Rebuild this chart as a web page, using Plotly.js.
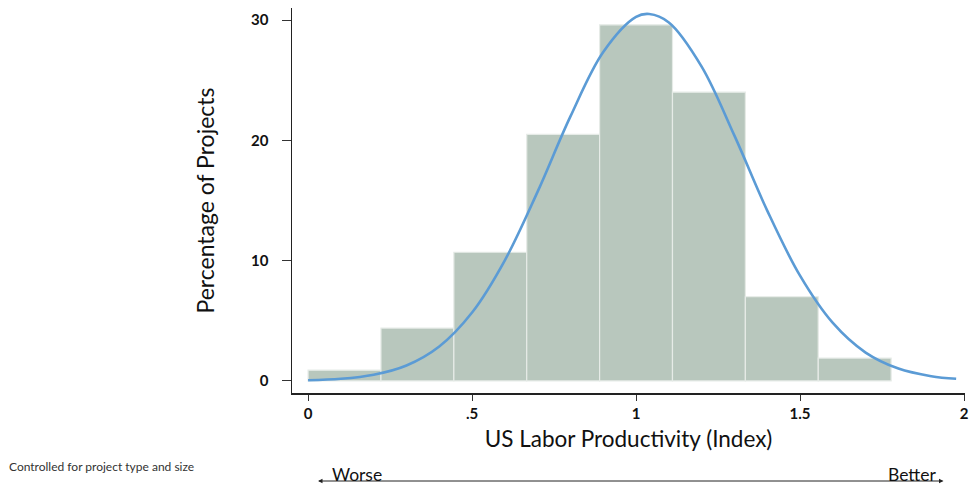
<!DOCTYPE html>
<html>
<head>
<meta charset="utf-8">
<script src="https://cdn.plot.ly/plotly-3.0.1.min.js"></script>
<style>html,body{margin:0;padding:0;background:#fff;}#chart{width:971px;height:485px;}</style>
</head>
<body>
<div id="chart"></div>
<script>
// Histogram bins (width 2/9) and percentages
const binCenters = [0.1111, 0.3333, 0.5556, 0.7778, 1.0, 1.2222, 1.4444, 1.6667];
const binPercent = [0.9, 4.4, 10.7, 20.5, 29.6, 24.0, 7.0, 1.9];
const binWidth = 0.2222;

// Fitted normal curve
const curveX = [0, 0.1, 0.2, 0.3, 0.4, 0.5, 0.6, 0.7, 0.8, 0.9, 1.0, 1.04, 1.1, 1.2, 1.3, 1.4, 1.5, 1.6, 1.7, 1.8, 1.9, 1.976];
const curveY = [0.06, 0.18, 0.52, 1.29, 2.87, 5.69, 10.03, 15.74, 21.99, 27.34, 30.26, 30.5, 29.80, 26.13, 20.39, 14.16, 8.75, 4.82, 2.36, 1.03, 0.40, 0.18];

const xTickVals = [0, 0.5, 1, 1.5, 2];
const xTickText = ['0', '.5', '1', '1.5', '2'];
const yTickVals = [0, 10, 20, 30];

const font = 'Lato, "Open Sans", "Liberation Sans", sans-serif';

const traces = [
  {
    type: 'bar',
    x: binCenters,
    y: binPercent,
    width: binWidth,
    marker: {color: '#b8c7bd', line: {color: '#e6ebe7', width: 1.2}},
    hoverinfo: 'skip'
  },
  {
    type: 'scatter',
    mode: 'lines',
    x: curveX,
    y: curveY,
    line: {color: '#5b9bd5', width: 2.6, shape: 'spline', smoothing: 1},
    hoverinfo: 'skip'
  }
];

const layout = {
  width: 971,
  height: 485,
  margin: {l: 292, r: 6, t: 8, b: 92},
  paper_bgcolor: '#ffffff',
  plot_bgcolor: '#ffffff',
  showlegend: false,
  bargap: 0,
  xaxis: {
    range: [-0.049, 2.003],
    tickvals: xTickVals,
    ticktext: xTickText,
    ticks: 'outside',
    ticklen: 6,
    tickwidth: 1,
    tickcolor: '#333',
    showline: true,
    linecolor: '#222',
    linewidth: 1.5,
    showgrid: false,
    zeroline: false,
    tickfont: {family: font, size: 15, color: '#111', weight: 'bold'},
    title: {text: 'US Labor Productivity (Index)', font: {family: font, size: 22.5, color: '#111'}, standoff: 10}
  },
  yaxis: {
    range: [-1, 31],
    tickvals: yTickVals,
    ticks: 'outside',
    ticklen: 9,
    tickwidth: 1,
    tickcolor: '#333',
    showline: true,
    linecolor: '#222',
    linewidth: 1.5,
    showgrid: false,
    zeroline: false,
    ticklabelstandoff: 10,
    tickfont: {family: font, size: 15, color: '#111', weight: 'bold'},
    title: {text: 'Percentage of Projects', font: {family: font, size: 23, color: '#111'}, standoff: 30}
  },
  annotations: [
    {
      xref: 'paper', yref: 'paper',
      x: -0.4235, y: -0.19, xanchor: 'left', yanchor: 'middle',
      text: 'Controlled for project type and size', showarrow: false,
      font: {family: font, size: 12, color: '#333'}
    },
    {
      xref: 'paper', yref: 'paper',
      x: 0.0386, y: -0.2286, ax: 627, ay: 0, axref: 'pixel', ayref: 'pixel',
      text: '', showarrow: true, arrowside: 'end+start', arrowhead: 2, arrowsize: 0.9, arrowwidth: 1, arrowcolor: '#222'
    },
    {
      xref: 'paper', yref: 'paper',
      x: 0.057, y: -0.243, xanchor: 'left', yanchor: 'bottom',
      text: 'Worse', showarrow: false,
      font: {family: font, size: 17.5, color: '#111'}
    },
    {
      xref: 'paper', yref: 'paper',
      x: 0.962, y: -0.243, xanchor: 'right', yanchor: 'bottom',
      text: 'Better', showarrow: false,
      font: {family: font, size: 17.5, color: '#111'}
    }
  ]
};

Plotly.newPlot('chart', traces, layout, {displayModeBar: false, staticPlot: true});
</script>
</body>
</html>
